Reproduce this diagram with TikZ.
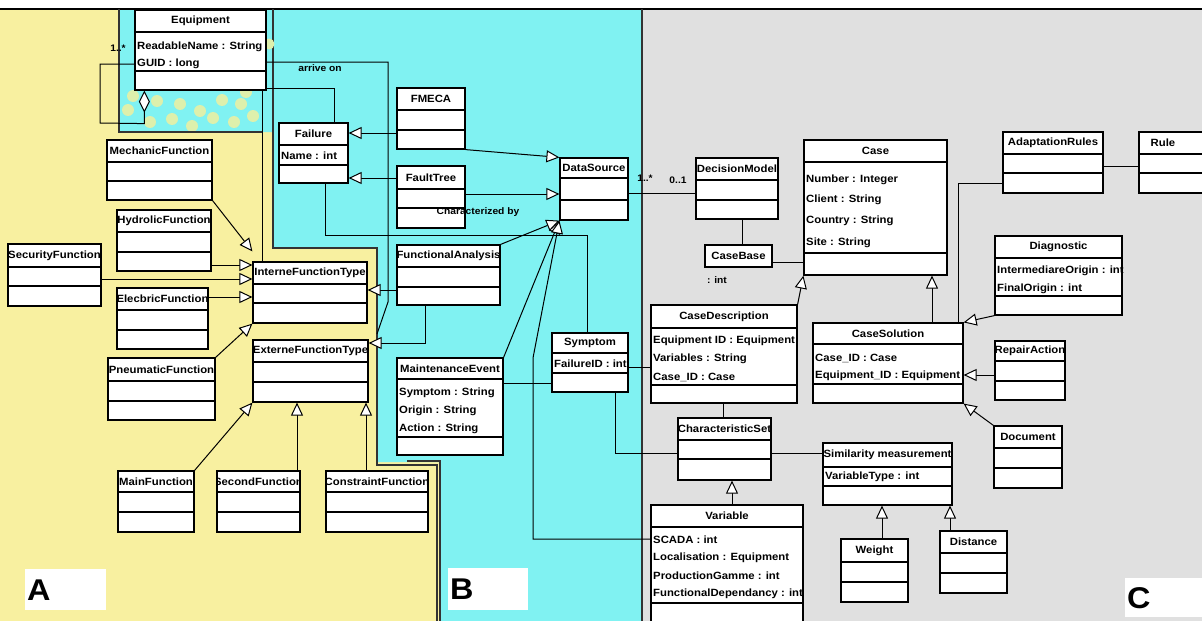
\documentclass[tikz,border=0pt]{standalone}
\usepackage{fontspec}
\setmainfont{Liberation Sans}[FakeStretch=1.08]
\usetikzlibrary{arrows.meta,fit,calc}
\definecolor{ybg}{RGB}{248,240,160}
\definecolor{cbg}{RGB}{128,242,242}
\definecolor{gbg}{RGB}{224,224,224}
\definecolor{dotc}{RGB}{222,240,172}
\newcommand{\umlcls}[8]{%
  \node[umlbox, fit={(#2,#3) (#4,#5)}] (#1) {};
  \draw[umlline] (#2,#6) -- (#4,#6);
  \draw[umlline] (#2,#7) -- (#4,#7);
  \begin{scope}
    \clip (#2+0.8,#3) rectangle (#4-0.8,#6);
    \node[umltitle] (#1-t) at ({(#2+#4)/2},{(#3+#6)/2}) {#8};
  \end{scope}
}
\newcommand{\umlat}[4]{\node[umlattr] (#1) at (#2,#3) {#4};}
\begin{document}
\begin{tikzpicture}[x=1pt,y=-1pt,
  umlbox/.style={draw=black, fill=white, inner sep=0pt, line width=1.2pt},
  umlline/.style={line width=1.1pt},
  umltitle/.style={font=\fontsize{10.5}{10.5}\selectfont\bfseries, inner sep=0pt},
  umlattr/.style={font=\fontsize{10.5}{10.5}\selectfont\bfseries, inner sep=0pt, anchor=west},
  conn/.style={line width=1pt},
  gen/.style={conn, -{Triangle[fill=white, length=13pt, width=12pt, line width=1pt]}},
  region/.style={line width=1.3pt, black!80},
  lbltxt/.style={font=\fontsize{9.5}{9.5}\selectfont\bfseries, inner sep=0pt},
  lblbox/.style={fill=white, inner ysep=0pt, inner xsep=2pt, anchor=north west, align=left,
                 font=\fontsize{30}{30}\selectfont\bfseries}
]
\useasboundingbox (0,0) rectangle (1202,621);
% ---------- backgrounds ----------
\fill[white] (0,0) rectangle (1202,621);
\fill[ybg] (0,9) rectangle (440,621);
\fill[cbg] (119,9) -- (642,9) -- (642,621) -- (440,621) -- (440,462) -- (377,462)
  -- (377,248) -- (273,248) -- (273,132) -- (119,132) -- cycle;
\fill[gbg] (642,9) rectangle (1202,621);
\foreach \px/\py in {133/96,157/101,180/104,200/111,222/100,241/104,253/116,172/119,
                     213/118,234/122,150/122,192/126,128/110,246/92}
  \fill[dotc] (\px,\py) circle (6);
\draw[line width=1.5pt] (0,9) -- (1202,9);
\draw[region] (119,9) -- (119,132) -- (262,132);
\draw[region] (273,9) -- (273,248) -- (377,248) -- (377,465) -- (437,465) -- (437,621);
\draw[region] (407,461) -- (440,461) -- (440,621);
\draw[region] (642,9) -- (642,621);
\fill[dotc] (269,44) circle (5.5);
% ---------- region labels ----------
\node[lblbox, minimum width=81pt, minimum height=41pt, text width=77pt] (labA) at (25,569) {A};
\node[lblbox, minimum width=80pt, minimum height=42pt, text width=76pt] (labB) at (448,568) {B};
\node[lblbox, minimum width=77pt, minimum height=39pt, text width=73pt] (labC) at (1125,578) {C};
% ---------- classes: region A ----------
\umlcls{Equipment}{135}{10}{266}{90}{32}{71}{Equipment}
\umlat{Equipment-a1}{137}{47}{ReadableName : String}
\umlat{Equipment-a2}{137}{64}{GUID : long}
\umlcls{MechanicFunction}{107}{140}{212}{200}{162}{181}{MechanicFunction}
\umlcls{HydrolicFunction}{117}{210}{211}{271}{232}{252}{HydrolicFunction}
\umlcls{SecurityFunction}{8}{244}{101}{306}{267}{286}{SecurityFunction}
\umlcls{ElecbricFunction}{117}{288}{208}{349}{310}{330}{ElecbricFunction}
\umlcls{PneumaticFunction}{108}{358}{215}{420}{381}{401}{PneumaticFunction}
\umlcls{InterneFunctionType}{253}{262}{367}{323}{284}{303}{InterneFunctionType}
\umlcls{ExterneFunctionType}{253}{340}{368}{402}{362}{382}{ExterneFunctionType}
\umlcls{MainFunction}{118}{471}{194}{532}{492}{512}{MainFunction}
\umlcls{SecondFunction}{217}{471}{300}{532}{492}{512}{SecondFunction}
\umlcls{ConstraintFunction}{326}{471}{428}{532}{492}{512}{ConstraintFunction}
% ---------- classes: region B ----------
\umlcls{Failure}{279}{123}{348}{183}{145}{165}{Failure}
\umlat{Failure-a1}{281}{156}{Name : int}
\umlcls{FMECA}{397}{88}{465}{149}{110}{130}{FMECA}
\umlcls{FaultTree}{397}{166}{465}{228}{189}{208}{FaultTree}
\umlcls{DataSource}{560}{158}{628}{220}{178}{200}{DataSource}
\umlcls{FunctionalAnalysis}{397}{245}{500}{305}{267}{287}{FunctionalAnalysis}
\umlcls{MaintenanceEvent}{397}{358}{503}{455}{379}{437}{MaintenanceEvent}
\umlat{MaintenanceEvent-a1}{399}{393}{Symptom : String}
\umlat{MaintenanceEvent-a2}{399}{411}{Origin : String}
\umlat{MaintenanceEvent-a3}{399}{429}{Action : String}
\umlcls{Symptom}{552}{333}{628}{392}{353}{373}{Symptom}
\umlat{Symptom-a1}{554}{364}{FailureID : int}
% ---------- classes: region C ----------
\umlcls{DecisionModel}{696}{158}{778}{219}{180}{200}{DecisionModel}
\node[umlbox, fit={(705,245) (772,267)}] (CaseBase) {};
\node[umltitle] (CaseBase-t) at (738.5,256) {CaseBase};
\umlcls{Case}{804}{140}{947}{275}{162}{253}{Case}
\umlat{Case-a1}{806}{180}{Number : Integer}
\umlat{Case-a2}{806}{200}{Client : String}
\umlat{Case-a3}{806}{221}{Country : String}
\umlat{Case-a4}{806}{243}{Site : String}
\umlcls{AdaptationRules}{1003}{132}{1103}{193}{154}{173}{AdaptationRules}
\node[umlbox, fit={(1139,132) (1212,193)}] (Rule) {};
\draw[umlline] (1139,154) -- (1212,154);
\draw[umlline] (1139,173) -- (1212,173);
\node[umltitle] (Rule-t) at (1163,143) {Rule};
\umlcls{Diagnostic}{995}{236}{1122}{315}{258}{296}{Diagnostic}
\umlat{Diagnostic-a1}{997}{271}{IntermediareOrigin : int}
\umlat{Diagnostic-a2}{997}{289}{FinalOrigin : int}
\umlcls{CaseSolution}{813}{323}{963}{403}{344}{384}{CaseSolution}
\umlat{CaseSolution-a1}{815}{358}{Case\_ID : Case}
\umlat{CaseSolution-a2}{815}{376}{Equipment\_ID : Equipment}
\umlcls{RepairAction}{995}{341}{1065}{400}{361}{381}{RepairAction}
\umlcls{Document}{994}{426}{1062}{488}{448}{468}{Document}
\umlcls{CaseDescription}{651}{305}{797}{403}{328}{385}{CaseDescription}
\umlat{CaseDescription-a1}{653}{341}{Equipment ID : Equipment}
\umlat{CaseDescription-a2}{653}{359}{Variables : String}
\umlat{CaseDescription-a3}{653}{377}{Case\_ID : Case}
\umlcls{CharacteristicSet}{678}{418}{771}{480}{440}{459}{CharacteristicSet}
\umlcls{Similarity}{823}{443}{952}{505}{467}{486}{Similarity measurement}
\umlat{Similarity-a1}{825}{477}{VariableType : int}
\umlcls{Variable}{651}{505}{803}{625}{527}{603}{Variable}
\umlat{Variable-a1}{653}{540}{SCADA : int}
\umlat{Variable-a2}{653}{558}{Localisation : Equipment}
\umlat{Variable-a3}{653}{576}{ProductionGamme : int}
\umlat{Variable-a4}{653}{594}{FunctionalDependancy : int}
\umlcls{Weight}{841}{539}{908}{602}{562}{582}{Weight}
\umlcls{Distance}{940}{531}{1007}{593}{553}{573}{Distance}
% ---------- connectors: region A ----------
\draw[conn, {Diamond[fill=white, length=22pt, width=11pt, line width=1pt]}-]
  ([xshift=10pt]Equipment.south west) -- ++(0,33) -- (100,123) -- (100,64) -- (Equipment.west |- 0,64);
\node[lbltxt] (mult1) at (118,48) {1..*};
\draw[conn] (Equipment.south -| 262,0) -- (InterneFunctionType.north -| 262,0);
\draw[gen] (MechanicFunction.south east) -- ([yshift=10pt]InterneFunctionType.north west);
\draw[gen] (HydrolicFunction.east |- 0,265) -- (InterneFunctionType.west |- 0,265);
\draw[gen] (SecurityFunction.east |- 0,279) -- (InterneFunctionType.west |- 0,279);
\draw[gen] (ElecbricFunction.east |- 0,297) -- (InterneFunctionType.west |- 0,297);
\draw[gen] (PneumaticFunction.north east) -- (InterneFunctionType.south west);
\draw[gen] (MainFunction.north east) -- (ExterneFunctionType.south west);
\draw[gen] (SecondFunction.north -| 297,0) -- (ExterneFunctionType.south -| 297,0);
\draw[gen] (ConstraintFunction.north -| 366,0) -- (ExterneFunctionType.south -| 366,0);
% ---------- connectors: region B ----------
\draw[conn] (Equipment.east |- 0,62) -- (388,62) -- (388,302) -- (377,334);
\node[lbltxt] (arriveon) at (320,68) {arrive on};
\draw[conn] (Equipment.east |- 0,88) -- (334,88) -- (Failure.north -| 334,0);
\draw[gen] (FMECA.west |- 0,133) -- (Failure.east |- 0,133);
\draw[gen] (FaultTree.west |- 0,178) -- (Failure.east |- 0,178);
\draw[gen] (FMECA.south east) -- (DataSource.north west);
\draw[gen] (FaultTree.east |- 0,194) -- (DataSource.west |- 0,194);
\draw[gen] (FunctionalAnalysis.north east) -- (DataSource.south west);
\draw[gen] (MaintenanceEvent.north east) -- (DataSource.south west);
\draw[gen] (Variable.west |- 0,539) -- (533,539) -- (533,358) -- (DataSource.south west);
\draw[conn] (Failure.south -| 325,0) -- (325,235) -- (587,235) -- (Symptom.north -| 587,0);
\node[lbltxt] (charby) at (478,212) {Characterized by};
\draw[gen] (FunctionalAnalysis.west |- 0,290) -- (InterneFunctionType.east |- 0,290);
\draw[gen] (FunctionalAnalysis.south -| 425,0) -- (425,343) -- (ExterneFunctionType.east |- 0,343);
\draw[conn] (MaintenanceEvent.east |- 0,383) -- (Symptom.west |- 0,383);
\draw[conn] (Symptom.east |- 0,367) -- (CaseDescription.west |- 0,367);
\draw[conn] (Symptom.south -| 615,0) -- (615,453) -- (CharacteristicSet.west |- 0,453);
% ---------- connectors: region C ----------
\draw[conn] (DataSource.east |- 0,193) -- (DecisionModel.west |- 0,193);
\node[lbltxt] (mult2) at (645,178) {1..*};
\node[lbltxt] (mult3) at (678,180) {0..1};
\draw[conn] (DecisionModel.south -| 742,0) -- (CaseBase.north -| 742,0);
\draw[conn] (CaseBase.east |- 0,262) -- (Case.west |- 0,262);
\node[lbltxt] (intlbl) at (717,280) {: int};
\draw[gen] (CaseDescription.north east) -- (Case.south west);
\draw[gen] (CaseSolution.north -| 932,0) -- (Case.south -| 932,0);
\draw[conn] (CaseSolution.north -| 958,0) -- (958,183) -- (AdaptationRules.west |- 0,183);
\draw[conn] (AdaptationRules.east |- 0,166) -- (Rule.west |- 0,166);
\draw[gen] (Diagnostic.south west) -- (CaseSolution.north east);
\draw[gen] (RepairAction.west |- 0,375) -- (CaseSolution.east |- 0,375);
\draw[gen] (Document.north west) -- (CaseSolution.south east);
\draw[conn] (CaseDescription.south -| 723,0) -- (CharacteristicSet.north -| 723,0);
\draw[gen] (Variable.north -| 732,0) -- (CharacteristicSet.south -| 732,0);
\draw[conn] (CharacteristicSet.east |- 0,453) -- (Similarity.west |- 0,453);
\draw[gen] (Weight.north -| 882,0) -- (Similarity.south -| 882,0);
\draw[gen] (Distance.north -| 950,0) -- (Similarity.south -| 950,0);
\end{tikzpicture}
\end{document}
